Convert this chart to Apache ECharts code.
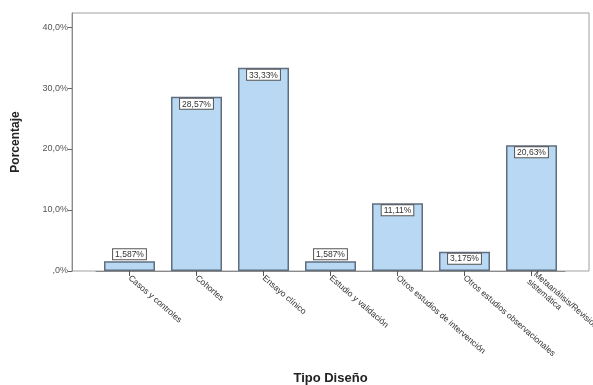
<!DOCTYPE html>
<html>
<head>
<meta charset="utf-8">
<script src="https://cdn.jsdelivr.net/npm/echarts@6/dist/echarts.min.js"></script>
<style>
html,body{margin:0;padding:0;background:#fff;}
#c{width:593px;height:385px;}
</style>
</head>
<body>
<div id="c"></div>
<script>
const categories = [
  "Casos y controles",
  "Cohortes",
  "Ensayo clínico",
  "Estudio y validación",
  "Otros estudios de intervención",
  "Otros estudios observacionales",
  "Metaanálisis/Revisión\nsistemática"
];
const values = [1.587, 28.57, 33.33, 1.587, 11.11, 3.175, 20.63];
const yTicks = [0, 10, 20, 30, 40];
const yTickLabels = [",0%", "10,0%", "20,0%", "30,0%", "40,0%"];

const font = "Liberation Sans";
const chart = echarts.init(document.getElementById('c'), null, {renderer: 'canvas'});
const yMax = 42.3;

chart.setOption({
  animation: false,
  backgroundColor: '#fff',
  textStyle: {fontFamily: font},
  grid: [
    {left: 72, top: 13, width: 517, height: 258, show: true, borderColor: '#a0a0a0', borderWidth: 1, backgroundColor: 'transparent', containLabel: false, outerBoundsMode: 'none'},
    {left: 96, top: 13, width: 469, height: 258, containLabel: false, outerBoundsMode: 'none'}
  ],
  xAxis: [
    {type: 'value', gridIndex: 0, show: false, min: 0, max: 1},
    {
      type: 'category', gridIndex: 1, data: categories,
      axisLine: {show: true, lineStyle: {color: '#8a8a8a', width: 1}},
      axisTick: {show: true, alignWithLabel: true, length: 5, lineStyle: {color: '#555'}},
      axisLabel: {rotate: -41, fontSize: 8.5, color: '#333', fontFamily: font, margin: 6, interval: 0, lineHeight: 10},
      name: 'Tipo Diseño', nameLocation: 'middle', nameGap: 101,
      nameTextStyle: {fontSize: 13, fontWeight: 'bold', color: '#222', fontFamily: font}
    }
  ],
  yAxis: [
    {
      type: 'value', gridIndex: 0, min: 0, max: yMax, interval: 10,
      axisLine: {show: true, lineStyle: {color: '#8a8a8a', width: 1}},
      axisTick: {show: true, length: 4, lineStyle: {color: '#666'}},
      splitLine: {show: false},
      axisLabel: {
        fontSize: 9, color: '#555', fontFamily: font, margin: 4, showMaxLabel: false,
        formatter: function (v) { const i = yTicks.indexOf(v); return i >= 0 ? yTickLabels[i] : ''; }
      },
      name: 'Porcentaje', nameLocation: 'middle', nameGap: 50, nameRotate: 90,
      nameTextStyle: {fontSize: 12, fontWeight: 'bold', color: '#222', fontFamily: font}
    },
    {type: 'value', gridIndex: 1, min: 0, max: yMax, interval: 10, show: false, splitLine: {show: false}}
  ],
  series: [{
    type: 'bar', xAxisIndex: 1, yAxisIndex: 1,
    barWidth: 51,
    data: values.map(v => ({value: v, label: {position: v < 2.5 ? 'top' : 'insideTop'}})),
    itemStyle: {color: '#b9d8f3', borderColor: '#5f6f80', borderWidth: 1.5},
    label: {
      show: true, distance: 2, fontSize: 8.5, color: '#333', fontFamily: font,
      backgroundColor: '#fff', borderColor: '#555', borderWidth: 1, padding: [1, 2, 0, 2],
      formatter: p => String(p.value).replace('.', ',') + '%'
    }
  }]
});
</script>
</body>
</html>
